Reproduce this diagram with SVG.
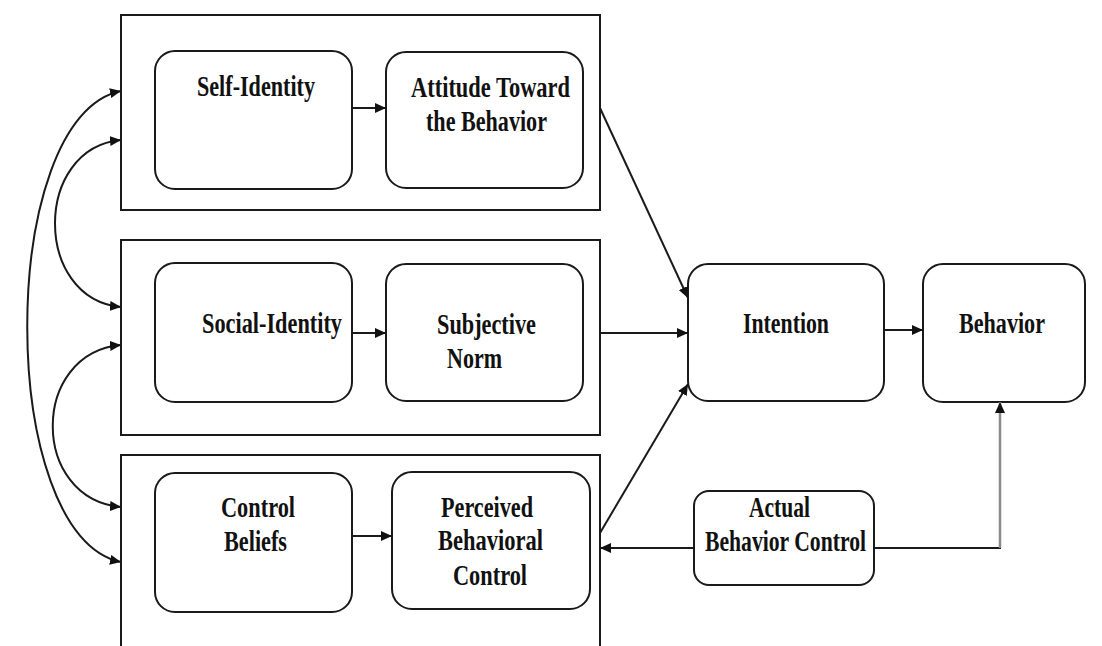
<svg xmlns="http://www.w3.org/2000/svg" width="1102" height="646" viewBox="0 0 1102 646">
  <style>
    .frame { fill: none; stroke: #1a1a1a; stroke-width: 2; }
    .node { fill: #ffffff; stroke: #1a1a1a; stroke-width: 2; }
    .lbl { font-family: "Liberation Serif", "Times New Roman", serif; font-weight: bold; font-size: 29px; fill: #111111; }
    .wire { fill: none; stroke: #1a1a1a; stroke-width: 2; }
    .wire-grey { fill: none; stroke: #8a8a8a; stroke-width: 2.5; }
  </style>
  <defs>
    <marker id="tip" markerUnits="userSpaceOnUse" markerWidth="11" markerHeight="10" refX="11" refY="5" orient="auto">
      <path d="M0,0 L11,5 L0,10 z" fill="#111111"/>
    </marker>
    <marker id="tail" markerUnits="userSpaceOnUse" markerWidth="11" markerHeight="10" refX="0" refY="5" orient="auto">
      <path d="M11,0 L0,5 L11,10 z" fill="#111111"/>
    </marker>
  </defs>

  <rect width="1102" height="646" fill="#ffffff"/>

  <!-- construct frames -->
  <g id="frame-attitude"><rect class="frame" x="121" y="15" width="479" height="195"/></g>
  <g id="frame-norm"><rect class="frame" x="121" y="240" width="479" height="195"/></g>
  <g id="frame-control"><path class="frame" d="M121,650 V455 H600 V650"/></g>

  <!-- nodes -->
  <g id="self-identity">
    <rect class="node" x="155" y="51" width="197" height="138" rx="20"/>
    <text class="lbl" x="256" y="96" text-anchor="middle" textLength="118" lengthAdjust="spacingAndGlyphs">Self-Identity</text>
  </g>
  <g id="attitude">
    <rect class="node" x="386" y="52" width="197" height="136" rx="20"/>
    <text class="lbl" x="490.5" y="97" text-anchor="middle" textLength="159" lengthAdjust="spacingAndGlyphs">Attitude Toward</text>
    <text class="lbl" x="486.5" y="131" text-anchor="middle" textLength="121" lengthAdjust="spacingAndGlyphs">the Behavior</text>
  </g>
  <g id="social-identity">
    <rect class="node" x="155" y="263" width="197" height="139" rx="20"/>
    <text class="lbl" x="272" y="333" text-anchor="middle" textLength="140" lengthAdjust="spacingAndGlyphs">Social-Identity</text>
  </g>
  <g id="subjective-norm">
    <rect class="node" x="386" y="264" width="197" height="137" rx="20"/>
    <text class="lbl" x="486.5" y="334" text-anchor="middle" textLength="99" lengthAdjust="spacingAndGlyphs">Subjective</text>
    <text class="lbl" x="474.5" y="368" text-anchor="middle" textLength="55" lengthAdjust="spacingAndGlyphs">Norm</text>
  </g>
  <g id="control-beliefs">
    <rect class="node" x="155" y="473" width="197" height="139" rx="20"/>
    <text class="lbl" x="258" y="517" text-anchor="middle" textLength="74" lengthAdjust="spacingAndGlyphs">Control</text>
    <text class="lbl" x="255.5" y="551" text-anchor="middle" textLength="63" lengthAdjust="spacingAndGlyphs">Beliefs</text>
  </g>
  <g id="perceived-control">
    <rect class="node" x="392" y="472" width="198" height="137" rx="20"/>
    <text class="lbl" x="487" y="517" text-anchor="middle" textLength="92" lengthAdjust="spacingAndGlyphs">Perceived</text>
    <text class="lbl" x="490.5" y="550" text-anchor="middle" textLength="105" lengthAdjust="spacingAndGlyphs">Behavioral</text>
    <text class="lbl" x="490" y="585" text-anchor="middle" textLength="74" lengthAdjust="spacingAndGlyphs">Control</text>
  </g>
  <g id="intention">
    <rect class="node" x="688" y="264" width="196" height="137" rx="20"/>
    <text class="lbl" x="786" y="333" text-anchor="middle" textLength="86" lengthAdjust="spacingAndGlyphs">Intention</text>
  </g>
  <g id="behavior">
    <rect class="node" x="923" y="264" width="162" height="138" rx="20"/>
    <text class="lbl" x="1002" y="333" text-anchor="middle" textLength="86" lengthAdjust="spacingAndGlyphs">Behavior</text>
  </g>
  <g id="actual-control">
    <rect class="node" x="694" y="491" width="180" height="94" rx="15"/>
    <text class="lbl" x="779.5" y="517" text-anchor="middle" textLength="61" lengthAdjust="spacingAndGlyphs">Actual</text>
    <text class="lbl" x="785.5" y="551" text-anchor="middle" textLength="161" lengthAdjust="spacingAndGlyphs">Behavior Control</text>
  </g>

  <!-- connectors -->
  <g id="connectors">
    <!-- correlations between the identity constructs -->
    <path class="wire" d="M121,91 C-4,116 -4,537 121,562" marker-start="url(#tail)" marker-end="url(#tip)"/>
    <path class="wire" d="M121,140 C33,148 33,299 121,307" marker-start="url(#tail)" marker-end="url(#tip)"/>
    <path class="wire" d="M121,345 C30,353 30,499 121,507" marker-start="url(#tail)" marker-end="url(#tip)"/>

    <line class="wire" x1="352" y1="108" x2="386" y2="108" marker-end="url(#tip)"/>
    <line class="wire" x1="352" y1="333" x2="386" y2="333" marker-end="url(#tip)"/>
    <line class="wire" x1="352" y1="536" x2="392" y2="536" marker-end="url(#tip)"/>

    <line class="wire" x1="600" y1="108" x2="688" y2="298" marker-end="url(#tip)"/>
    <line class="wire" x1="600" y1="333" x2="688" y2="333" marker-end="url(#tip)"/>
    <line class="wire" x1="600" y1="533" x2="688" y2="384" marker-end="url(#tip)"/>

    <line class="wire" x1="884" y1="330" x2="923" y2="330" marker-end="url(#tip)"/>

    <line class="wire" x1="694" y1="548" x2="600" y2="548" marker-end="url(#tip)"/>
    <line class="wire" x1="874" y1="548" x2="1001" y2="548"/>
    <line class="wire-grey" x1="1000" y1="548" x2="1000" y2="402" marker-end="url(#tip)"/>
  </g>
</svg>
